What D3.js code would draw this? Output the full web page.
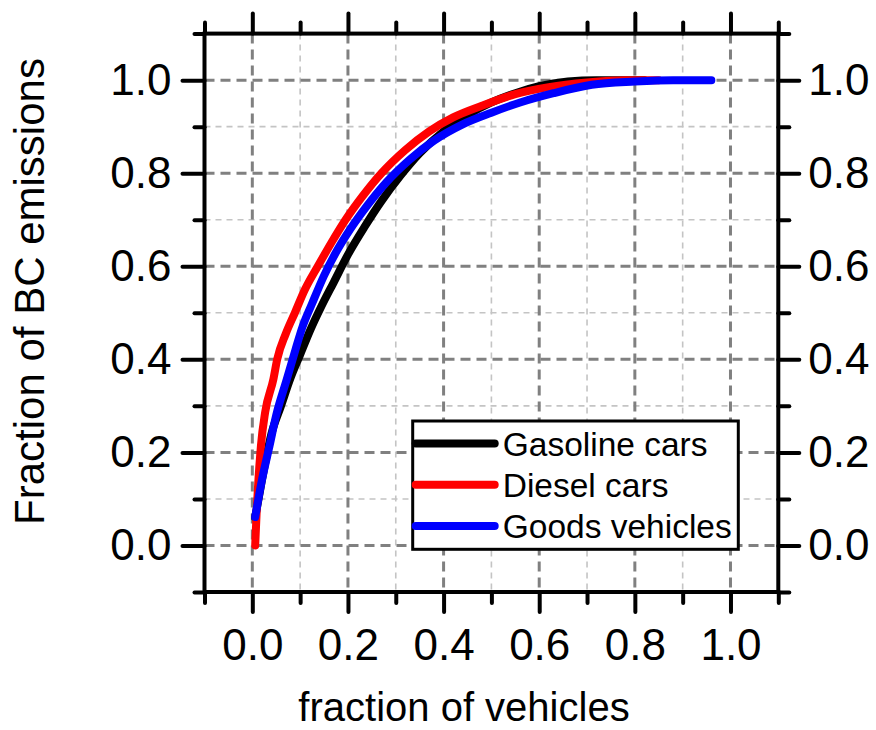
<!DOCTYPE html>
<html>
<head>
<meta charset="utf-8">
<script src="https://cdn.jsdelivr.net/npm/d3@7"></script>
<style>
    body { margin: 0; background: #fff; }
    svg { display: block; font-family: "Liberation Sans", Arial, sans-serif; }
</style>
</head>
<body>
<script>
// data
const seriesNames = ["Gasoline cars", "Diesel cars", "Goods vehicles"];
const seriesColors = ["#000000", "#ff0000", "#0000ff"];

const gasolineX = [0.006, 0.02, 0.04, 0.06, 0.08, 0.10, 0.12, 0.145, 0.17, 0.20, 0.235, 0.27, 0.31, 0.35, 0.40, 0.45, 0.50, 0.55, 0.60, 0.66, 0.72, 0.82];
const gasolineY = [0.06, 0.14, 0.24, 0.30, 0.36, 0.41, 0.46, 0.515, 0.565, 0.625, 0.685, 0.74, 0.795, 0.843, 0.89, 0.925, 0.952, 0.972, 0.987, 0.997, 1.0, 1.0];

const dieselX = [0.006, 0.009, 0.018, 0.027, 0.044, 0.052, 0.07, 0.089, 0.11, 0.137, 0.165, 0.195, 0.23, 0.27, 0.32, 0.37, 0.42, 0.48, 0.55, 0.62, 0.70, 0.78, 0.85];
const dieselY = [0.0, 0.07, 0.214, 0.287, 0.357, 0.40, 0.455, 0.50, 0.55, 0.60, 0.65, 0.70, 0.75, 0.80, 0.85, 0.89, 0.92, 0.945, 0.97, 0.985, 0.995, 1.0, 1.0];

const goodsX = [0.006, 0.02, 0.036, 0.05, 0.072, 0.09, 0.105, 0.125, 0.15, 0.175, 0.205, 0.24, 0.28, 0.33, 0.38, 0.44, 0.50, 0.56, 0.63, 0.71, 0.80, 0.88, 0.96];
const goodsY = [0.061, 0.14, 0.214, 0.28, 0.357, 0.42, 0.47, 0.52, 0.58, 0.63, 0.68, 0.73, 0.78, 0.83, 0.87, 0.905, 0.93, 0.952, 0.972, 0.99, 0.997, 1.0, 1.0];

const majorTicks = [0.0, 0.2, 0.4, 0.6, 0.8, 1.0];
const minorTicks = [-0.1, 0.1, 0.3, 0.5, 0.7, 0.9, 1.1];
const gridMinor = [0.1, 0.3, 0.5, 0.7, 0.9];

const xTitle = "fraction of vehicles";
const yTitle = "Fraction of BC emissions";

// layout
const W = 876, H = 730;
let margin = { top: 33.6, left: 204.5 }, width = 573.8, height = 558.4;
const fontStack = '"Liberation Sans", Arial, sans-serif';

let xScale = d3.scaleLinear().domain([-0.1, 1.1]).range([0, width]);
let yScale = d3.scaleLinear().domain([-0.1, 1.1]).range([height, 0]);

let svg = d3.select("body").append("svg")
    .attr("width", W)
    .attr("height", H);

svg.append("rect").attr("width", W).attr("height", H).attr("fill", "#fff");

let g = svg.append("g")
    .attr("transform", "translate(" + margin.left + "," + margin.top + ")");

// grid, minor first then major on top
let grid = g.append("g").attr("class", "grid");
gridMinor.forEach(v => {
    grid.append("line")
        .attr("x1", xScale(v)).attr("x2", xScale(v))
        .attr("y1", 0).attr("y2", height)
        .attr("stroke", "#c4c4c4").attr("stroke-width", 1.6).attr("stroke-dasharray", "6,5");
    grid.append("line")
        .attr("x1", 0).attr("x2", width)
        .attr("y1", yScale(v)).attr("y2", yScale(v))
        .attr("stroke", "#c4c4c4").attr("stroke-width", 1.6).attr("stroke-dasharray", "6,5");
});
majorTicks.forEach(v => {
    grid.append("line")
        .attr("x1", xScale(v)).attr("x2", xScale(v))
        .attr("y1", 0).attr("y2", height)
        .attr("stroke", "#808080").attr("stroke-width", 3).attr("stroke-dasharray", "10,6");
    grid.append("line")
        .attr("x1", 0).attr("x2", width)
        .attr("y1", yScale(v)).attr("y2", yScale(v))
        .attr("stroke", "#808080").attr("stroke-width", 3).attr("stroke-dasharray", "10,6");
});

// curves
let line = d3.line()
    .x(d => xScale(d.x))
    .y(d => yScale(d.y))
    .curve(d3.curveMonotoneX);

const allSeries = [[gasolineX, gasolineY], [dieselX, dieselY], [goodsX, goodsY]].map((s, i) => ({
    name: seriesNames[i],
    color: seriesColors[i],
    points: s[0].map((x, j) => ({ x: x, y: s[1][j] }))
}));

allSeries.forEach(s => {
    g.append("path")
        .datum(s.points)
        .attr("fill", "none")
        .attr("stroke", s.color)
        .attr("stroke-width", 8)
        .attr("stroke-linecap", "round")
        .attr("stroke-linejoin", "round")
        .attr("d", line);
});

// legend
let legend = g.append("g").attr("transform", "translate(" + (412.7 - margin.left) + "," + (421 - margin.top) + ")");
legend.append("rect")
    .attr("width", 325.6).attr("height", 128.3)
    .attr("fill", "#fff").attr("stroke", "#000").attr("stroke-width", 3);
allSeries.forEach((s, i) => {
    let rowY = 22.5 + i * 41.2;
    legend.append("line")
        .attr("x1", 3).attr("x2", 82)
        .attr("y1", rowY).attr("y2", rowY)
        .attr("stroke", s.color).attr("stroke-width", 8).attr("stroke-linecap", "round");
    legend.append("text")
        .attr("x", 90).attr("y", rowY + 12)
        .attr("font-size", 33.5).attr("font-family", fontStack)
        .attr("fill", "#000")
        .text(s.name);
});

// axes
function styleAxis(sel, fontSize) {
    sel.select(".domain").remove();
    sel.selectAll("line").attr("stroke-width", 4).attr("stroke-linecap", "round");
    sel.selectAll("text").attr("font-size", fontSize).attr("font-family", fontStack).attr("fill", "#000");
}
const fmt = d3.format(".1f");

g.append("g").attr("transform", "translate(0," + height + ")")
    .call(d3.axisBottom(xScale).tickValues(minorTicks).tickSize(11).tickFormat(""))
    .call(styleAxis, 44);
g.append("g").attr("transform", "translate(0," + height + ")")
    .call(d3.axisBottom(xScale).tickValues(majorTicks).tickSize(20).tickPadding(17).tickFormat(fmt))
    .call(styleAxis, 44);

g.append("g")
    .call(d3.axisTop(xScale).tickValues(minorTicks).tickSize(11).tickFormat(""))
    .call(styleAxis, 44);
g.append("g")
    .call(d3.axisTop(xScale).tickValues(majorTicks).tickSize(20).tickFormat(""))
    .call(styleAxis, 44);

g.append("g")
    .call(d3.axisLeft(yScale).tickValues(minorTicks).tickSize(10).tickFormat(""))
    .call(styleAxis, 44);
g.append("g")
    .call(d3.axisLeft(yScale).tickValues(majorTicks).tickSize(22).tickPadding(11).tickFormat(fmt))
    .call(styleAxis, 44);

g.append("g").attr("transform", "translate(" + width + ",0)")
    .call(d3.axisRight(yScale).tickValues(minorTicks).tickSize(11).tickFormat(""))
    .call(styleAxis, 44);
g.append("g").attr("transform", "translate(" + width + ",0)")
    .call(d3.axisRight(yScale).tickValues(majorTicks).tickSize(21).tickPadding(9).tickFormat(fmt))
    .call(styleAxis, 44);

// frame
g.append("rect")
    .attr("width", width).attr("height", height)
    .attr("fill", "none").attr("stroke", "#000").attr("stroke-width", 4);

// titles
svg.append("text")
    .attr("x", 464).attr("y", 721)
    .attr("text-anchor", "middle")
    .attr("font-size", 40).attr("font-family", fontStack)
    .text(xTitle);

svg.append("text")
    .attr("transform", "translate(44,291.5) rotate(-90)")
    .attr("text-anchor", "middle")
    .attr("font-size", 42).attr("font-family", fontStack)
    .text(yTitle);
</script>
</body>
</html>
